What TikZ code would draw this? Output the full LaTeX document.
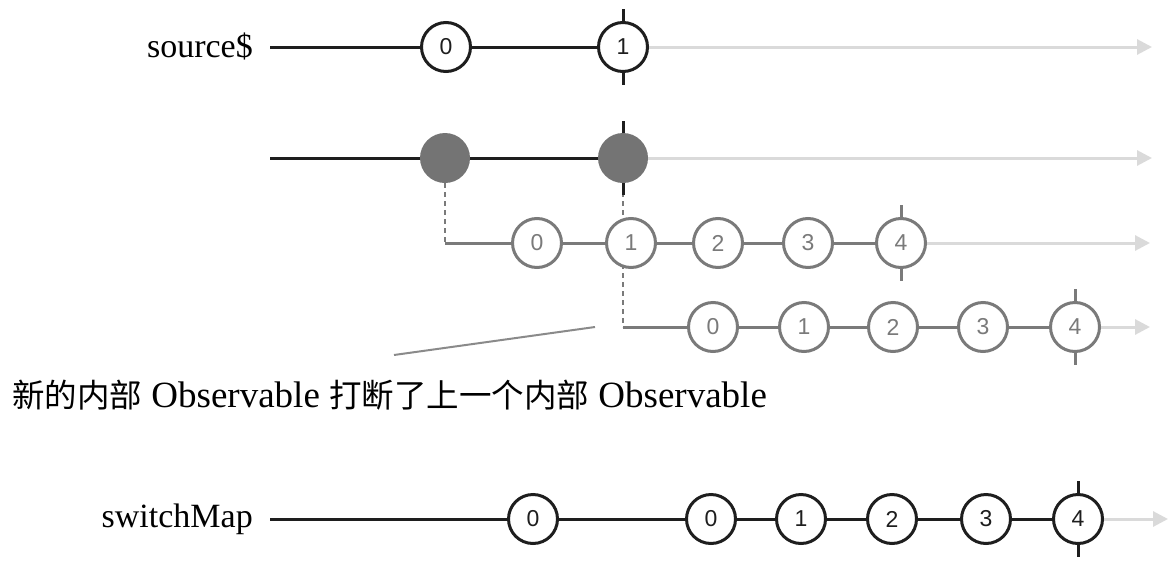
\documentclass[tikz,border=0pt]{standalone}
\usepackage{fontspec}
\setmainfont{Liberation Serif}
\newfontfamily\cjk{Noto Sans CJK SC}
\newfontfamily\numfont{Liberation Sans}
\usetikzlibrary{arrows.meta}
\definecolor{dk}{HTML}{1E1E1E}
\definecolor{gr}{HTML}{7A7A7A}
\definecolor{lt}{HTML}{DADADA}
\definecolor{fl}{HTML}{747474}
\definecolor{an}{HTML}{8A8A8A}
\newcommand{\cjkt}[1]{{\cjk\fontsize{32.5}{40}\selectfont #1}}
\tikzset{
  marble/.style={circle, minimum size=49pt, inner sep=0pt, line width=3pt, fill=white,
    font=\numfont\fontsize{23}{23}\selectfont},
  dkm/.style={marble, draw=dk, text=dk},
  grm/.style={marble, draw=gr, text=gr},
  filledm/.style={circle, minimum size=50pt, inner sep=0pt, fill=fl},
  dkline/.style={line width=3pt, draw=dk},
  grline/.style={line width=3pt, draw=gr},
  dashline/.style={line width=2pt, draw=gr, dash pattern=on 5pt off 4pt},
  ltarrow/.style={line width=3pt, draw=lt, -{Triangle[length=15pt,width=15pt]}},
  lbl/.style={anchor=base east, font=\fontsize{34}{40}\selectfont, inner sep=0pt},
}
\begin{document}
\begin{tikzpicture}[x=1pt,y=-1pt]
\useasboundingbox (0,0) rectangle (1175,565);

% ---------- row 1 : source$ ----------
\node[lbl] (l1) at (253,57) {source\$};
\coordinate (s1) at (270,47);
\node[dkm] (a0) at (446,47) {0};
\node[dkm] (a1) at (623,47) {1};
\coordinate (e1) at (1152,47);
\draw[dkline] (s1) -- (a0);
\draw[dkline] (a0) -- (a1);
\draw[ltarrow] (a1) -- (e1);
\draw[dkline] (a1.north) -- ++(0,-12);
\draw[dkline] (a1.south) -- ++(0,12);

% ---------- row 2 : mapped (filled) ----------
\coordinate (s2) at (270,158);
\coordinate (e2) at (1152,158);
\coordinate (c1) at (445,243);
\coordinate (c2) at (623,327);
\draw[dashline] (445,183) -- (c1);
\draw[dashline] (623,192) -- (c2);
\node[filledm] (b0) at (445,158) {};
\node[filledm] (b1) at (623,158) {};
\draw[dkline] (s2) -- (b0);
\draw[dkline] (b0) -- (b1);
\draw[ltarrow] (b1) -- (e2);
\draw[dkline] (b1.north) -- ++(0,-12);
\draw[dkline] (b1.south) -- ++(0,12);

% ---------- row 3 : first inner ----------
\node[grm] (p0) at (537,243) {0};
\node[grm] (p1) at (631,243) {1};
\node[grm] (p2) at (718,243) {2};
\node[grm] (p3) at (808,243) {3};
\node[grm] (p4) at (901,243) {4};
\coordinate (e3) at (1150,243);
\draw[grline] (c1) -- (p0);
\draw[grline] (p0) -- (p1);
\draw[grline] (p1) -- (p2);
\draw[grline] (p2) -- (p3);
\draw[grline] (p3) -- (p4);
\draw[ltarrow] (p4) -- (e3);
\draw[grline] (p4.north) -- ++(0,-12);
\draw[grline] (p4.south) -- ++(0,12);

% ---------- row 4 : second inner ----------
\node[grm] (q0) at (713,327) {0};
\node[grm] (q1) at (804,327) {1};
\node[grm] (q2) at (893,327) {2};
\node[grm] (q3) at (983,327) {3};
\node[grm] (q4) at (1075,327) {4};
\coordinate (e4) at (1150,327);
\draw[grline] (c2) -- (q0);
\draw[grline] (q0) -- (q1);
\draw[grline] (q1) -- (q2);
\draw[grline] (q2) -- (q3);
\draw[grline] (q3) -- (q4);
\draw[ltarrow] (q4) -- (e4);
\draw[grline] (q4.north) -- ++(0,-12);
\draw[grline] (q4.south) -- ++(0,12);

% ---------- annotation ----------
\coordinate (n1) at (394,355);
\coordinate (n2) at (595,327);
\draw[an, line width=2pt] (n1) -- (n2);
\node[anchor=base west, font=\fontsize{37}{40}\selectfont, inner sep=0pt] (note) at (12,407)
  {\cjkt{新的内部} Observable \cjkt{打断了上一个内部} Observable};

% ---------- row 5 : switchMap ----------
\node[lbl] (l5) at (253,527) {switchMap};
\coordinate (s5) at (270,519);
\node[dkm] (r0) at (533,519) {0};
\node[dkm] (r1) at (711,519) {0};
\node[dkm] (r2) at (801,519) {1};
\node[dkm] (r3) at (892,519) {2};
\node[dkm] (r4) at (986,519) {3};
\node[dkm] (r5) at (1078,519) {4};
\coordinate (e5) at (1168,519);
\draw[dkline] (s5) -- (r0);
\draw[dkline] (r0) -- (r1);
\draw[dkline] (r1) -- (r2);
\draw[dkline] (r2) -- (r3);
\draw[dkline] (r3) -- (r4);
\draw[dkline] (r4) -- (r5);
\draw[ltarrow] (r5) -- (e5);
\draw[dkline] (r5.north) -- ++(0,-12);
\draw[dkline] (r5.south) -- ++(0,12);
\end{tikzpicture}
\end{document}
